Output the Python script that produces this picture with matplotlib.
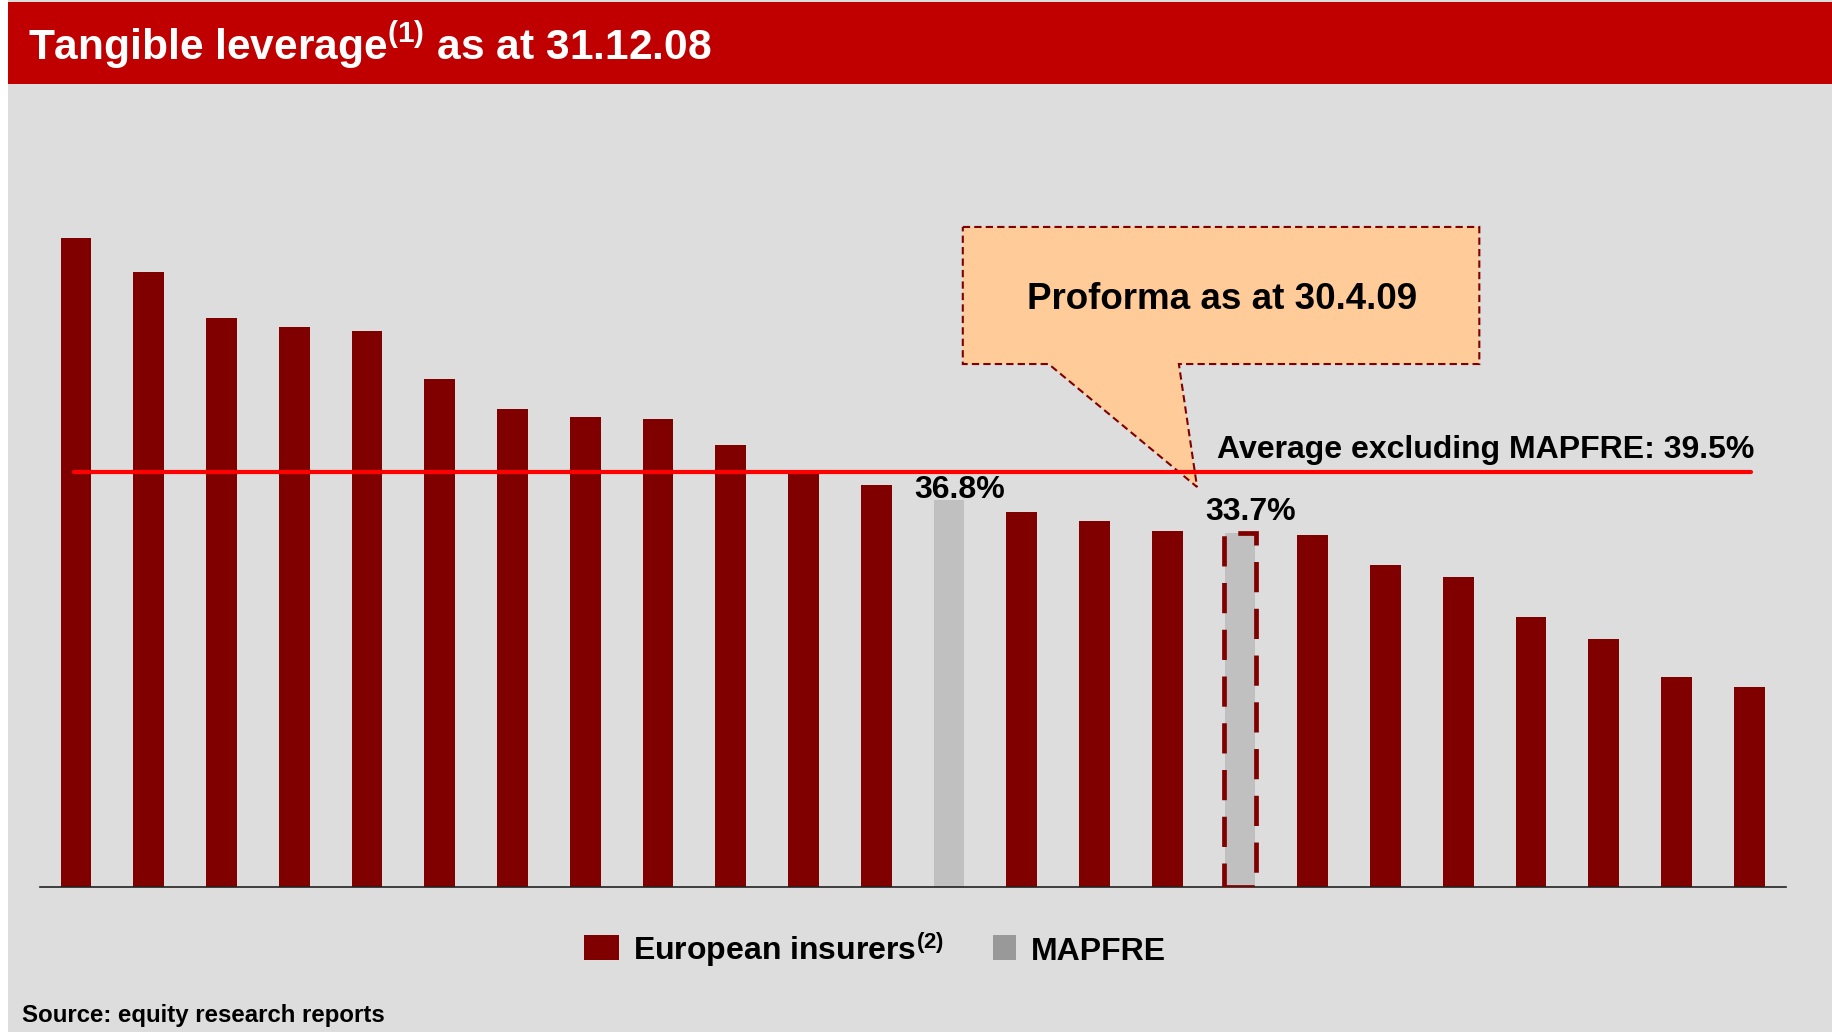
import matplotlib
matplotlib.use("Agg")
import matplotlib.pyplot as plt
from matplotlib.patches import Rectangle, Polygon

plt.rcParams['font.family'] = ['Liberation Sans', 'DejaVu Sans']
plt.rcParams['font.weight'] = 'bold'
plt.rcParams['mathtext.fontset'] = 'custom'
plt.rcParams['mathtext.rm'] = 'Liberation Sans:bold'
plt.rcParams['mathtext.it'] = 'Liberation Sans:bold'
plt.rcParams['mathtext.bf'] = 'Liberation Sans:bold'

# tangible leverage (%) per insurer, sorted as in the slide
values = [61.7, 58.5, 54.1, 53.3, 52.9, 48.3, 45.5, 44.7, 44.5, 42.0, 39.4, 38.2,
          36.8, 35.7, 34.8, 33.9, 33.7, 33.5, 30.6, 29.5, 25.7, 23.6, 20.0, 19.0]
groups = ['eu'] * 12 + ['mapfre'] + ['eu'] * 3 + ['proforma'] + ['eu'] * 7
average_ex_mapfre = 39.5
labelled = {12: "36.8%", 16: "33.7%"}

title = "Tangible leverage$^{\\mathrm{(1)}}$ as at 31.12.08"
legend_labels = ["European insurers$^{\\mathrm{(2)}}$", "MAPFRE"]
source = "Source: equity research reports"

DARK_RED = '#800000'
GREY_BAR = '#C0C0C0'
BG = '#DDDDDD'

W, H = 1832, 1032
fig = plt.figure(figsize=(W / 100, H / 100), dpi=100, facecolor='white')


def fx(x):
    return x / W


def fy(y):
    return 1 - y / H


# slide background and header band
fig.add_artist(Rectangle((fx(8), 0), 1, fy(0), transform=fig.transFigure,
                         facecolor=BG, edgecolor='none', zorder=0))
fig.add_artist(Rectangle((fx(8), fy(84)), 1, 82 / H, transform=fig.transFigure,
                         facecolor='#C00000', edgecolor='none', zorder=1))
fig.text(fx(28), fy(60), title, color='white', fontsize=30.6, fontweight='bold',
         va='baseline', ha='left', zorder=2)

ax = fig.add_axes([fx(39.6), 144.7 / H, 1746 / W, 683.8 / H])
ax.set_facecolor('none')
x = list(range(len(values)))
colors = [DARK_RED if g == 'eu' else GREY_BAR for g in groups]
ax.bar(x, values, width=0.42, color=colors, zorder=2)

# proforma bar outlined with a dashed border
pf = [i for i, g in enumerate(groups) if g == 'proforma']
ax.bar(pf, [values[i] for i in pf], width=0.44, facecolor='none', edgecolor=DARK_RED,
       linewidth=3.4, linestyle=(0, (6.4, 3.5)), zorder=3)

ax.hlines(average_ex_mapfre, -0.03, len(values) - 0.97, color='#FF0000', linewidth=3,
          capstyle='round', zorder=5)
ax.text(len(values) - 0.93, average_ex_mapfre + 1.3,
        "Average excluding MAPFRE: %.1f%%" % average_ex_mapfre,
        ha='right', va='baseline', fontsize=23, fontweight='bold', zorder=6)

offsets = {12: 0.2, 16: 1.2}
for i, lab in labelled.items():
    ax.text(i + 0.14, values[i] + offsets[i], lab, ha='center', va='baseline',
            fontsize=23, fontweight='bold', zorder=6)

# callout bubble
bx0, bx1, by0, by1 = 12.19, 19.29, 49.74, 62.77
callout = Polygon([(bx0, by1), (bx1, by1), (bx1, by0), (15.16, by0), (15.41, 38.05),
                   (13.37, by0), (bx0, by0)], closed=True, facecolor='#FFCC99',
                  edgecolor=DARK_RED, linewidth=1.5, linestyle=(0, (3.5, 2)), zorder=4)
ax.add_patch(callout)
ax.text(15.75, 55.85, "Proforma as at 30.4.09", ha='center', va='center',
        fontsize=26.5, fontweight='bold', zorder=6)

ax.set_xlim(-0.5, len(values) - 0.5)
ax.set_ylim(0, 65)
for s in ['top', 'left', 'right']:
    ax.spines[s].set_visible(False)
ax.spines['bottom'].set_color('#222222')
ax.spines['bottom'].set_linewidth(1.2)
ax.set_xticks([])
ax.set_yticks([])

# legend
fig.add_artist(Rectangle((fx(584), fy(960)), 35 / W, 25 / H, transform=fig.transFigure,
                         facecolor=DARK_RED, edgecolor='none'))
fig.text(fx(633), fy(960), legend_labels[0], fontsize=23, fontweight='bold',
         va='baseline', ha='left')
fig.add_artist(Rectangle((fx(993), fy(960)), 23 / W, 25 / H, transform=fig.transFigure,
                         facecolor='#999999', edgecolor='none'))
fig.text(fx(1031), fy(960), legend_labels[1], fontsize=23, fontweight='bold',
         va='baseline', ha='left')

fig.text(fx(22), fy(1022), source, fontsize=17.3, fontweight='bold', va='baseline', ha='left')

fig.savefig('out.png', dpi=100, facecolor=fig.get_facecolor())
